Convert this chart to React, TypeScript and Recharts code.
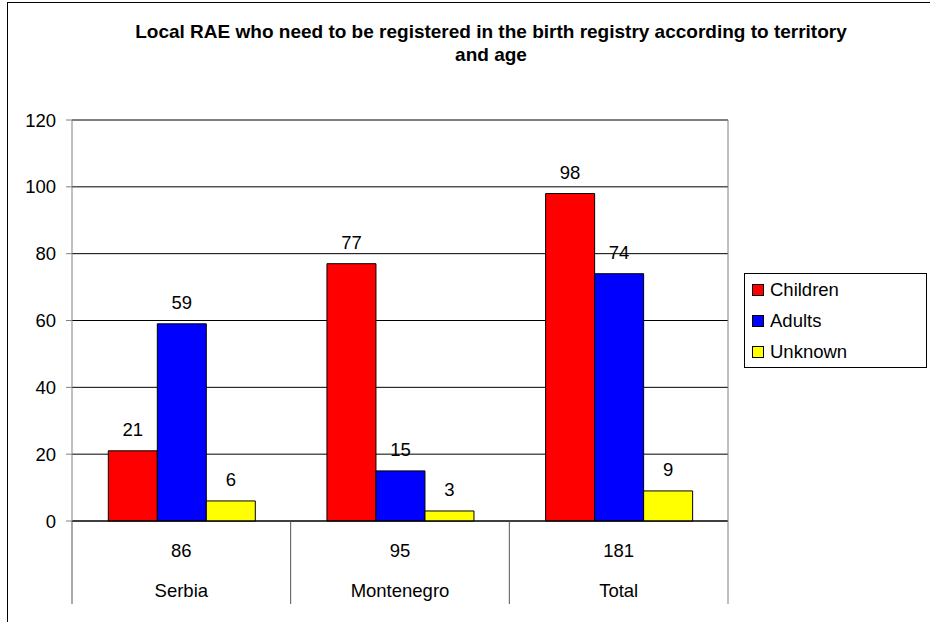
import { BarChart, Bar, XAxis, YAxis, CartesianGrid, Legend, LabelList, ReferenceLine } from 'recharts';

const territories = ['Serbia', 'Montenegro', 'Total'];
const totals = [86, 95, 181];
const children = [21, 77, 98];
const adults = [59, 15, 74];
const unknown = [6, 3, 9];
const yTicks = [0, 20, 40, 60, 80, 100, 120];

const series = [
  { key: 'children', name: 'Children', color: '#FF0000' },
  { key: 'adults', name: 'Adults', color: '#0000FF' },
  { key: 'unknown', name: 'Unknown', color: '#FFFF00' },
];

const data = territories.map((name, i) => ({
  name,
  total: totals[i],
  children: children[i],
  adults: adults[i],
  unknown: unknown[i],
}));

const W = 930;
const H = 622;
const MARGIN = { top: 120, right: 202, bottom: 17, left: 12 };
const Y_AXIS_W = 60;
const X_AXIS_H = 84;
const PLOT_W = W - MARGIN.left - MARGIN.right - Y_AXIS_W;
const PLOT_H = H - MARGIN.top - MARGIN.bottom - X_AXIS_H;
const BAND = PLOT_W / territories.length;
const FONT = 'Arial, "Liberation Sans", sans-serif';
const FS = 18.5;

const CategoryTick = (props: any) => {
  const { x, y, index, payload } = props;
  const half = BAND / 2;
  const last = index === territories.length - 1;
  return (
    <g>
      <line x1={x - half} x2={x - half} y1={y} y2={y + X_AXIS_H - 1} stroke="#555" />
      {last && <line x1={x + half} x2={x + half} y1={y - PLOT_H} y2={y + X_AXIS_H - 1} stroke="#808080" />}
      <text x={x} y={y + 36} textAnchor="middle" fontSize={FS} fontFamily={FONT} fill="#000">
        {totals[index]}
      </text>
      <text x={x} y={y + 76} textAnchor="middle" fontSize={FS} fontFamily={FONT} fill="#000">
        {payload.value}
      </text>
    </g>
  );
};

const LegendBox = () => (
  <div
    style={{
      width: 183,
      height: 95,
      border: '1px solid #000',
      background: '#fff',
      fontFamily: FONT,
      fontSize: FS,
      color: '#000',
      boxSizing: 'border-box',
    }}
  >
    {series.map((s) => (
      <div key={s.key} style={{ display: 'flex', alignItems: 'center', height: 31, paddingLeft: 7 }}>
        <span
          style={{
            display: 'inline-block',
            width: 10,
            height: 10,
            background: s.color,
            border: '1px solid #000',
            marginRight: 6,
          }}
        />
        <span>{s.name}</span>
      </div>
    ))}
  </div>
);

export default function App() {
  return (
    <div style={{ position: 'absolute', left: 0, top: 0, width: W, height: H, overflow: 'hidden', background: '#fff' }}>
      <div
        style={{
          position: 'absolute',
          left: 7,
          top: 2,
          width: W,
          height: H,
          borderLeft: '1px solid #000',
          borderTop: '1px solid #000',
        }}
      />
      <div
        style={{
          position: 'absolute',
          left: 91,
          top: 20,
          width: 800,
          textAlign: 'center',
          fontFamily: FONT,
          fontWeight: 'bold',
          fontSize: 19,
          lineHeight: '23px',
          whiteSpace: 'nowrap',
          color: '#000',
        }}
      >
        Local RAE who need to be registered in the birth registry according to territory
        <br />
        and age
      </div>
      <div style={{ position: 'absolute', left: 0, top: 0 }}>
        <BarChart width={W} height={H} data={data} margin={MARGIN} barCategoryGap="16.6%" barGap={0}>
          <CartesianGrid vertical={false} stroke="#000" />
          <XAxis
            dataKey="name"
            height={X_AXIS_H}
            axisLine={{ stroke: '#000' }}
            tickLine={false}
            tickSize={0}
            tickMargin={0}
            interval={0}
            tick={<CategoryTick />}
          />
          <YAxis
            width={Y_AXIS_W}
            domain={[0, 120]}
            ticks={yTicks}
            interval={0}
            axisLine={{ stroke: '#808080' }}
            tickLine={{ stroke: '#808080' }}
            tickSize={6}
            tickMargin={10}
            tick={{ fill: '#000', fontSize: FS, fontFamily: FONT }}
          />
          <ReferenceLine y={120} stroke="#808080" />
          {series.map((s) => (
            <Bar key={s.key} dataKey={s.key} name={s.name} fill={s.color} stroke="#000" strokeWidth={1} isAnimationActive={false}>
              <LabelList dataKey={s.key} position="top" offset={15} fill="#000" fontSize={FS} fontFamily={FONT} />
            </Bar>
          ))}
          <Legend
            layout="vertical"
            align="center"
            verticalAlign="middle"
            content={<LegendBox />}
            wrapperStyle={{ position: 'absolute', left: 744, top: 273, width: 183, height: 95 }}
          />
        </BarChart>
      </div>
    </div>
  );
}
